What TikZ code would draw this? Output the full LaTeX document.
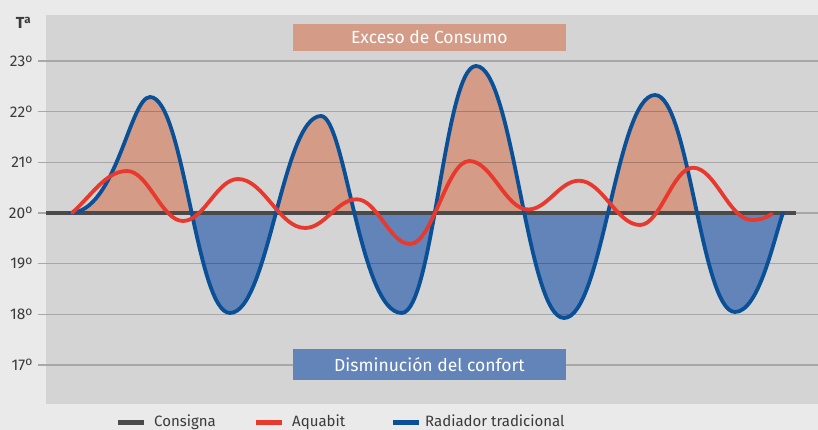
\documentclass[tikz,border=0pt]{standalone}
\usepackage{fontspec}
\setmainfont{Fira Sans}
\definecolor{outerbg}{RGB}{234,234,234}
\definecolor{plotbg}{RGB}{212,212,212}
\definecolor{gridc}{RGB}{168,168,168}
\definecolor{consc}{RGB}{74,74,74}
\definecolor{bluec}{RGB}{10,80,150}
\definecolor{redc}{RGB}{232,57,46}
\definecolor{salmonf}{RGB}{212,155,134}
\definecolor{bluef}{RGB}{99,132,185}
\definecolor{labc}{RGB}{58,58,58}
\newcommand\myordo{\raisebox{4.3pt}{\fontsize{12}{12}\selectfont o}}
\newcommand\myorda{\raisebox{4.6pt}{\fontsize{11.5}{11.5}\selectfont\bfseries a}}
\tikzset{
  gridln/.style={black, opacity=0.21, line width=1.4pt},
  gridtick/.style={gridc, line width=1.4pt},
  curveln/.style={line width=3.8pt, line join=round, line cap=round},
  ylab/.style={anchor=east, inner sep=0pt, text=labc, font=\fontsize{15.5}{17}\selectfont},
  boxlab/.style={inner sep=0pt, text=white, minimum width=273pt, font=\fontsize{17.5}{20}\selectfont},
  legtxt/.style={anchor=base west, inner sep=0pt, text=labc, font=\fontsize{15}{18}\selectfont},
  legsw/.style={minimum width=26pt, minimum height=5.5pt, inner sep=0pt, anchor=west}
}
\begin{document}
\begin{tikzpicture}[x=1pt,y=-1pt]
\useasboundingbox (0,0) rectangle (818,430);
\fill[outerbg] (0,0) rectangle (818,430);
\fill[plotbg] (46,15) rectangle (818,404);
\def\bluepath{(70,213) .. controls (116,212) and (130,97) .. (150,97)
 .. controls (183.6,97) and (196.4,313) .. (230,313)
 .. controls (268.2,313) and (282.8,116) .. (321,116)
 .. controls (345,116) and (360,313) .. (401.7,313)
 .. controls (432.9,313) and (444.8,66) .. (476,66)
 .. controls (513,66) and (527,318) .. (564,318)
 .. controls (602.2,318) and (616.8,95) .. (655,95)
 .. controls (688.6,95) and (701.4,312) .. (735,312)
 .. controls (759,312) and (774,238) .. (783,213)}
\def\redpath{(72,213) .. controls (92,195) and (106,171) .. (127,171)
 .. controls (148.3,171) and (161.7,221) .. (183,221)
 .. controls (203.9,221) and (217.1,179) .. (238,179)
 .. controls (263.5,179) and (279.5,228) .. (305,228)
 .. controls (324.6,228) and (337.1,199.3) .. (356.7,199.3)
 .. controls (377,199.3) and (389.7,244) .. (410,244)
 .. controls (432.5,244) and (446.8,161) .. (469.3,161)
 .. controls (491.6,161) and (505.7,209.5) .. (528,209.5)
 .. controls (547.4,209.5) and (559.6,180.7) .. (579,180.7)
 .. controls (602.2,180.7) and (616.8,225) .. (640,225)
 .. controls (660.1,225) and (672.9,167.7) .. (693,167.7)
 .. controls (715,167.7) and (729.4,220) .. (751.7,220)
 .. controls (760,220) and (766,218) .. (771.7,214)}
% fills
\begin{scope}
  \clip (46,15) rectangle (818,213);
  \fill[salmonf] \bluepath -- cycle;
\end{scope}
\begin{scope}
  \clip (46,213) rectangle (818,404);
  \fill[bluef] \bluepath -- cycle;
\end{scope}
% grid
\foreach \v/\yy in {23/61.05,22/111.7,21/162.35,20/213,19/263.65,18/314.3,17/364.95}{
  \draw[gridtick] (38,\yy) -- (46,\yy);
  \draw[gridln] (46,\yy) -- (818,\yy);
  \node[ylab] (lab\v) at (32.5,\yy) {\v\myordo};
}
\node[anchor=east, inner sep=0pt, text=labc, font=\fontsize{16}{18}\selectfont\bfseries] (ta) at (31,23) {T\myorda};
% boxes
\node[boxlab, fill=salmonf, minimum height=26.7pt] (exceso) at (429.3,37.4) {Exceso de Consumo};
\node[boxlab, fill=bluef, minimum height=30.7pt] (dismin) at (429.4,364.4) {Disminución del confort};
% consigna
\coordinate (c0) at (46,213);
\coordinate (c1) at (796,213);
\draw[consc, line width=4.3pt] (c0) -- (c1);
% curves
\draw[curveln, bluec] \bluepath;
\draw[curveln, redc] \redpath;
% legend
\node[legsw, fill=consc] (sw1) at (118,422.5) {};
\node[legtxt] (lg1) at (154,426.8) {Consigna};
\node[legsw, fill=redc] (sw2) at (256,422.5) {};
\node[legtxt] (lg2) at (292,426.8) {Aquabit};
\node[legsw, fill=bluec] (sw3) at (393,422.5) {};
\node[legtxt] (lg3) at (425,426.8) {Radiador tradicional};
\end{tikzpicture}
\end{document}
